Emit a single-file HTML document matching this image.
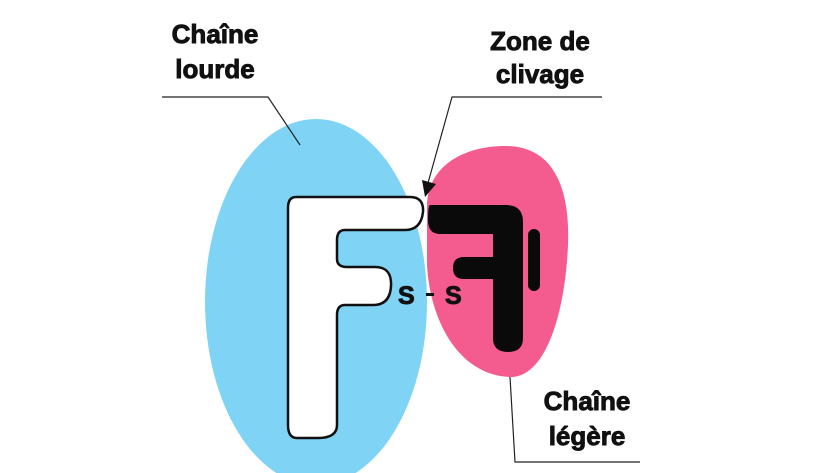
<!DOCTYPE html>
<html><head><meta charset="utf-8"><style>
html,body{margin:0;padding:0;background:#fff;}
svg{display:block}
text{font-family:"Liberation Sans",sans-serif;font-weight:bold;fill:#111;stroke:#111;stroke-width:0.9;}
</style></head><body>
<svg width="820" height="473" viewBox="0 0 820 473" xmlns="http://www.w3.org/2000/svg">
<rect width="820" height="473" fill="#fff"/>
<ellipse cx="316" cy="302" rx="111" ry="183" fill="#7fd3f5"/>
<path d="M427,205 C428,165 465,146 505,146 C555,146 570,190 568,245 C565,315 545,378 510,377 C458,375 430,320 427,265 Z" fill="#f45b8f"/>
<path d="M296,197 L410,197 Q424,197 423,212 Q421,230 405,230 L345,230 Q337,230 337,240 L337,259 Q337,267 347,267 L375,267 Q392,267 391,286 Q390,305 373,305 L345,305 Q337,305 337,315 L337,425 Q337,438 318,438 L297,438 Q288,438 288,425 L288,208 Q288,197 296,197 Z" fill="#fff" stroke="#111" stroke-width="2.5"/>
<path d="M430,205 L506,205 Q523,205 523,222 L523,338 Q523,352 508,352 Q493,352 493,338 L493,279 L464,279 Q453,279 453,268 Q453,257 464,257 L493,257 L493,234 L440,234 Q428,234 428,220 Q428,205 430,205 Z" fill="#0a0a0a"/>
<rect x="528" y="229" width="12" height="62" rx="6" fill="#0a0a0a"/>
<text x="398" y="304" font-size="25">S</text>
<rect x="426" y="293" width="8" height="3" fill="#111"/>
<text x="445" y="304" font-size="25">S</text>
<polyline points="162,97 268,97 300,145" fill="none" stroke="#222" stroke-width="1.2"/>
<polyline points="602,97 452,97 428,183" fill="none" stroke="#222" stroke-width="1.2"/>
<polygon points="422,180 436,184 425,197" fill="#111"/>
<polyline points="510,377 515,462 640,462" fill="none" stroke="#222" stroke-width="1.2"/>
<text x="215" y="43" font-size="26" text-anchor="middle">Chaîne</text>
<text x="215" y="78" font-size="26" text-anchor="middle">lourde</text>
<text x="540" y="50" font-size="26" text-anchor="middle">Zone de</text>
<text x="540" y="83" font-size="26" text-anchor="middle">clivage</text>
<text x="587" y="410" font-size="26" text-anchor="middle">Chaîne</text>
<text x="587" y="445" font-size="26" text-anchor="middle">légère</text>
</svg>
</body></html>
